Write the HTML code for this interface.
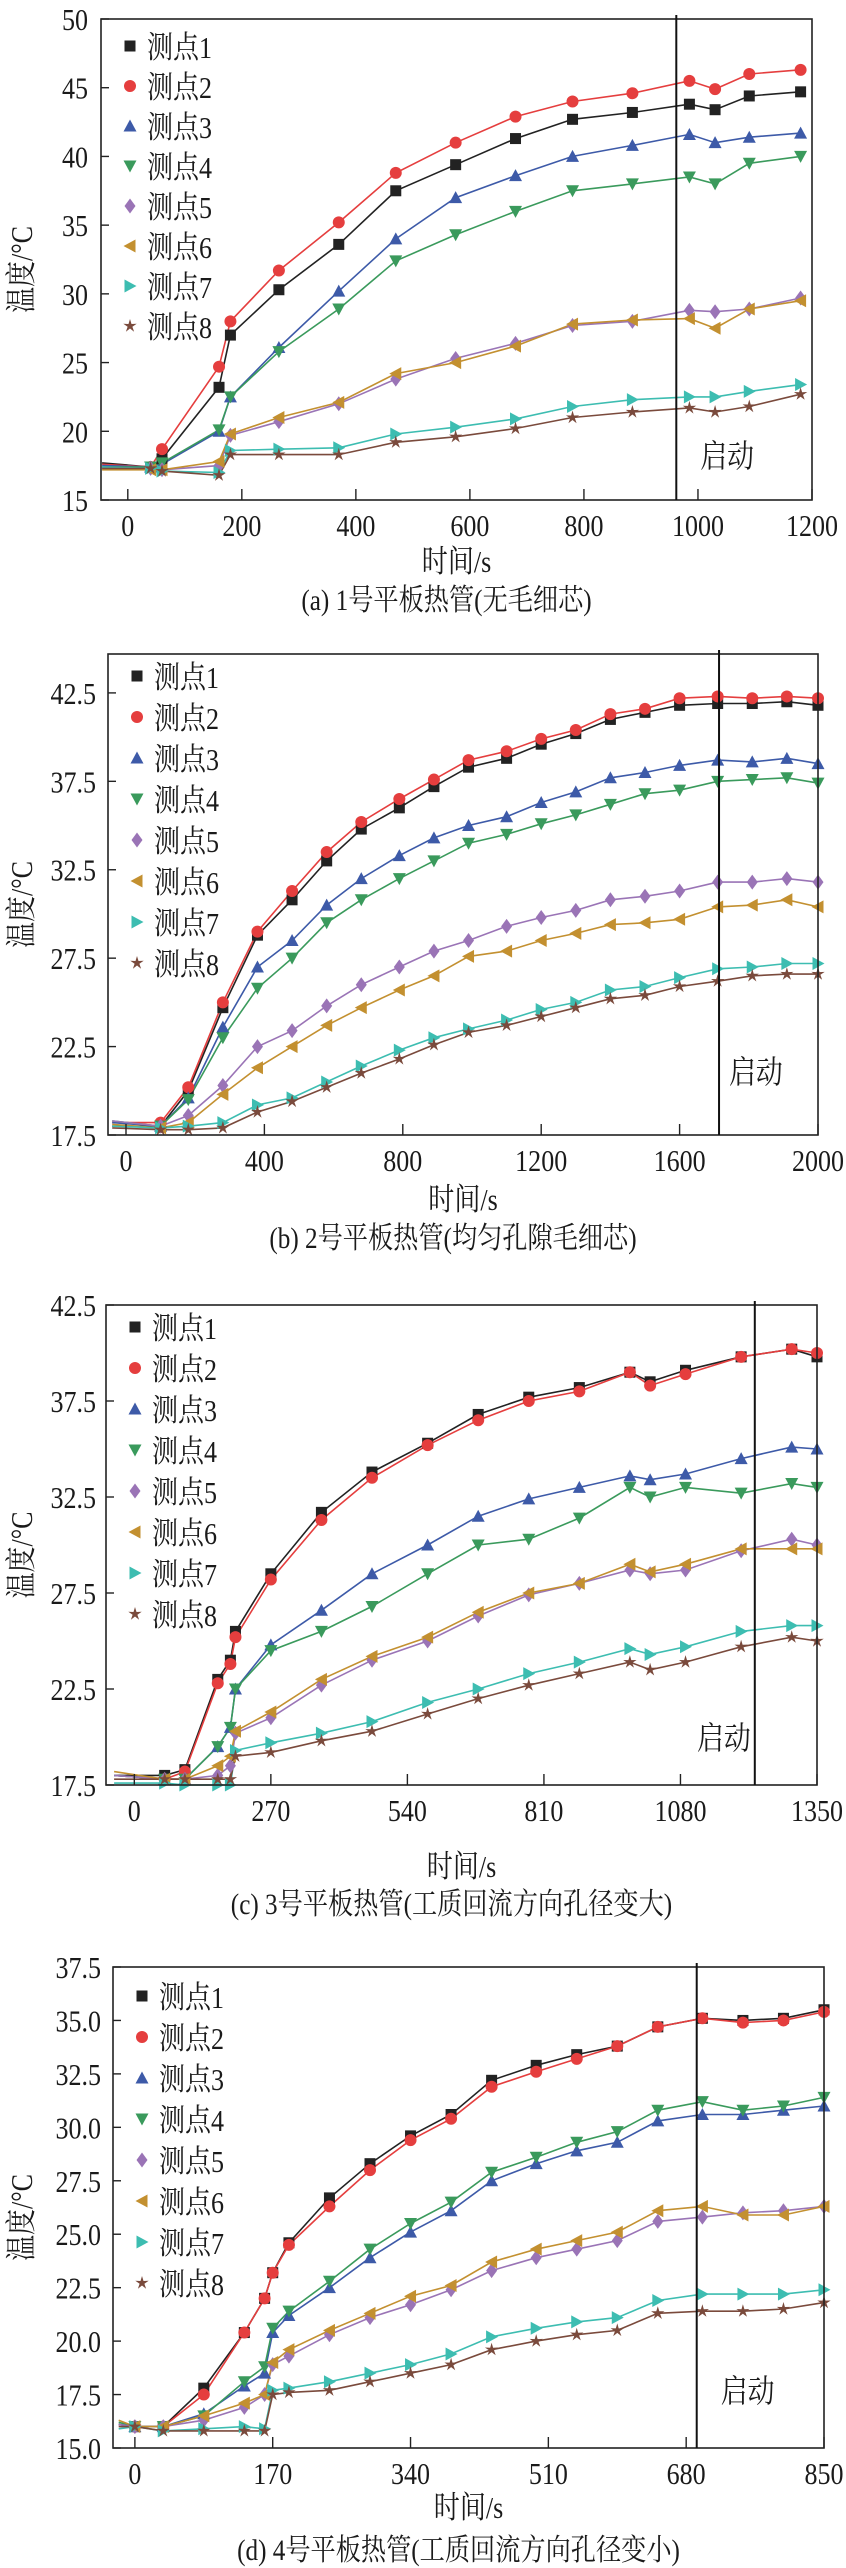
<!DOCTYPE html>
<html><head><meta charset="utf-8">
<style>
html,body{margin:0;padding:0;background:#fff;}
body{width:846px;height:2568px;position:relative;overflow:hidden;}
svg{position:absolute;left:0;top:0;}
text{font-family:"Liberation Serif","Noto Serif CJK SC",serif;fill:#1a1a1a;}
</style></head>
<body>
<svg id="svg" width="846" height="2568" viewBox="0 0 846 2568"></svg>
<script>
const seriesNames=["测点1","测点2","测点3","测点4","测点5","测点6","测点7","测点8"];
// Chart (a)
const timesA=[-45,40,60,160,180,265,370,470,575,680,780,885,985,1030,1090,1180];
const a1=[17.7,17.4,18.0,23.2,27,30.3,33.6,37.5,39.4,41.3,42.7,43.2,43.8,43.4,44.4,44.7];
const a2=[17.6,17.4,18.7,24.7,28,31.7,35.2,38.8,41.0,42.9,44.0,44.6,45.5,44.9,46.0,46.3];
const a3=[17.5,17.4,17.6,20.0,22.5,26.1,30.2,34.0,37.0,38.6,40.0,40.8,41.6,41.0,41.4,41.7];
const a4=[17.4,17.4,17.7,20.1,22.5,25.8,28.9,32.4,34.3,36.0,37.5,38.0,38.5,38.0,39.5,40.0];
const a5=[17.3,17.3,17.2,17.5,19.7,20.7,22.0,23.8,25.3,26.4,27.7,28.0,28.8,28.7,28.9,29.7];
const a6=[17.2,17.2,17.2,17.8,19.8,21.0,22.1,24.2,25.0,26.2,27.8,28.1,28.2,27.5,28.9,29.5];
const a7=[17.4,17.3,17.1,17.0,18.6,18.7,18.8,19.8,20.3,20.9,21.8,22.3,22.5,22.5,22.9,23.4];
const a8=[17.3,17.3,17.1,16.8,18.3,18.3,18.3,19.2,19.6,20.2,21.0,21.4,21.7,21.4,21.8,22.7];
const xTicksA=[0,200,400,600,800,1000,1200];
const yTicksA=["15","20","25","30","35","40","45","50"];
// Chart (b)
const timesB=[-40,100,180,280,380,480,580,680,790,890,990,1100,1200,1300,1400,1500,1600,1710,1810,1910,2000];
const b1=[18.0,18.0,20.0,24.7,28.8,30.8,33.0,34.8,36.0,37.2,38.3,38.8,39.6,40.2,41.0,41.4,41.8,41.9,41.9,42.0,41.8];
const b2=[18.2,18.2,20.2,25.0,29.0,31.3,33.5,35.2,36.5,37.6,38.7,39.2,39.9,40.4,41.3,41.6,42.2,42.3,42.2,42.3,42.2];
const b3=[18.2,18.0,19.6,23.6,27.0,28.5,30.5,32.0,33.3,34.3,35.0,35.5,36.3,36.9,37.7,38.0,38.4,38.7,38.6,38.8,38.5];
const b4=[18.3,18.0,19.5,23.0,25.8,27.5,29.5,30.8,32.0,33.0,34.0,34.5,35.1,35.6,36.2,36.8,37.0,37.5,37.6,37.7,37.4];
const b5=[18.3,18.0,18.6,20.3,22.5,23.4,24.8,26.0,27.0,27.9,28.5,29.3,29.8,30.2,30.8,31.0,31.3,31.8,31.8,32.0,31.8];
const b6=[18.1,17.9,18.2,19.8,21.3,22.5,23.7,24.7,25.7,26.5,27.6,27.9,28.5,28.9,29.4,29.5,29.7,30.4,30.5,30.8,30.4];
const b7=[18.0,17.9,18.0,18.2,19.2,19.6,20.5,21.4,22.3,23.0,23.5,24.0,24.6,25.0,25.7,25.9,26.4,26.9,27.0,27.2,27.2];
const b8=[17.9,17.8,17.8,17.9,18.8,19.4,20.2,21.0,21.8,22.6,23.3,23.7,24.2,24.7,25.2,25.4,25.9,26.2,26.5,26.6,26.6];
const xTicksB=[0,400,800,1200,1600,2000];
const yTicksB=["17.5","22.5","27.5","32.5","37.5","42.5"];
// Chart (c)
const timesC=[-40,60,100,165,190,200,270,370,470,580,680,780,880,980,1020,1090,1200,1300,1350];
const c1=[18.0,18.0,18.3,23.0,24.0,25.5,28.5,31.7,33.8,35.3,36.8,37.7,38.2,39.0,38.5,39.1,39.8,40.2,39.8];
const c2=[18.0,17.8,18.2,22.8,23.8,25.2,28.2,31.3,33.5,35.2,36.5,37.5,38.0,39.0,38.3,38.9,39.8,40.2,40.0];
const c3=[18.0,17.8,17.8,19.5,20.5,22.5,24.8,26.6,28.5,30.0,31.5,32.4,33.0,33.6,33.4,33.7,34.5,35.1,35.0];
const c4=[18.0,17.8,17.8,19.5,20.5,22.5,24.5,25.5,26.8,28.5,30.0,30.3,31.4,33.0,32.5,33.0,32.7,33.2,33.0];
const c5=[18.0,17.8,17.8,18.0,18.5,20.2,21.0,22.7,24.0,25.0,26.3,27.4,28.0,28.7,28.5,28.7,29.7,30.3,30.0];
const c6=[18.2,17.8,17.8,18.5,19.0,20.3,21.3,23.0,24.2,25.2,26.5,27.5,28.0,29.0,28.6,29.0,29.8,29.8,29.8];
const c7=[17.6,17.6,17.5,17.5,17.5,19.3,19.7,20.2,20.8,21.8,22.5,23.3,23.9,24.6,24.3,24.7,25.5,25.8,25.8];
const c8=[17.8,17.8,17.8,17.8,17.8,19.0,19.2,19.8,20.3,21.2,22.0,22.7,23.3,23.9,23.5,23.9,24.7,25.2,25.0];
const xTicksC=[0,270,540,810,1080,1350];
const yTicksC=["17.5","22.5","27.5","32.5","37.5","42.5"];
// Chart (d)
const timesD=[-20,0,35,85,135,160,170,190,240,290,340,390,440,495,545,595,645,700,750,800,850];
const d1=[16.1,16.0,16.0,17.8,20.4,22,23.2,24.6,26.7,28.3,29.6,30.6,32.2,32.9,33.4,33.8,34.7,35.1,35.0,35.1,35.5];
const d2=[16.1,16.0,16.0,17.5,20.4,22,23.2,24.5,26.3,28.0,29.4,30.4,31.9,32.6,33.2,33.8,34.7,35.1,34.9,35.0,35.4];
const d3=[16.1,16.0,16.0,16.6,17.9,18.5,20.4,21.2,22.5,23.9,25.1,26.1,27.5,28.3,28.9,29.3,30.3,30.6,30.6,30.8,31.0];
const d4=[16.2,16.0,16.0,16.5,18.1,18.8,20.6,21.4,22.8,24.3,25.5,26.5,27.9,28.6,29.3,29.8,30.8,31.2,30.8,31.0,31.4];
const d5=[16.1,16.0,16.0,16.3,16.9,17.5,18.9,19.3,20.3,21.1,21.7,22.4,23.3,23.9,24.3,24.7,25.6,25.8,26.0,26.1,26.3];
const d6=[16.3,16.0,16.0,16.5,17.1,17.5,19.0,19.6,20.5,21.3,22.1,22.6,23.7,24.3,24.7,25.1,26.1,26.3,25.9,25.9,26.3];
const d7=[15.9,16.0,15.8,15.9,16.0,15.9,17.7,17.8,18.1,18.5,18.9,19.4,20.2,20.6,20.9,21.1,21.9,22.2,22.2,22.2,22.4];
const d8=[16.0,16.0,15.8,15.8,15.8,15.8,17.5,17.6,17.7,18.1,18.5,18.9,19.6,20.0,20.3,20.5,21.3,21.4,21.4,21.5,21.8];
const xTicksD=[0,170,340,510,680,850];
const yTicksD=["15.0","17.5","20.0","22.5","25.0","27.5","30.0","32.5","35.0","37.5"];

const colors=["#222222","#e53e3e","#3d5aa8","#3a9a5c","#9a74b6","#c39030","#3dbdb1","#7a4a3c"];
const NS="http://www.w3.org/2000/svg";
const svg=document.getElementById('svg');
function el(tag,attrs,parent){const e=document.createElementNS(NS,tag);for(const k in attrs)e.setAttribute(k,attrs[k]);(parent||svg).appendChild(e);return e;}
// condensed tall text like the reference
function txt(g,x,y,size,anchor,str,extra){
  const t=el('text',{x:0,y:0,'font-size':size,'text-anchor':anchor||'start',transform:`translate(${x},${y}) ${extra||''} scale(0.84,1)`},g);
  t.textContent=str;
  return t;
}

function marker(g,shape,x,y,c){
  const s=5.5;let e;
  if(shape===0)e=el('rect',{x:x-s,y:y-s,width:2*s,height:2*s,fill:c},g);
  else if(shape===1)e=el('circle',{cx:x,cy:y,r:s+0.5,fill:c},g);
  else if(shape===2)e=el('polygon',{points:`${x},${y-s-1} ${x+s+1},${y+s} ${x-s-1},${y+s}`,fill:c},g);
  else if(shape===3)e=el('polygon',{points:`${x},${y+s+1} ${x+s+1},${y-s} ${x-s-1},${y-s}`,fill:c},g);
  else if(shape===4)e=el('polygon',{points:`${x},${y-s-2} ${x+s},${y} ${x},${y+s+2} ${x-s},${y}`,fill:c},g);
  else if(shape===5)e=el('polygon',{points:`${x-s-1},${y} ${x+s},${y-s-1} ${x+s},${y+s+1}`,fill:c},g);
  else if(shape===6)e=el('polygon',{points:`${x+s+1},${y} ${x-s},${y-s-1} ${x-s},${y+s+1}`,fill:c},g);
  else{let p=[];for(let i=0;i<10;i++){const r=i%2?s*0.45:s+1.5;const a=-Math.PI/2+i*Math.PI/5;p.push((x+r*Math.cos(a)).toFixed(1)+','+(y+r*Math.sin(a)).toFixed(1));}e=el('polygon',{points:p.join(' '),fill:c},g);}
  
  
}

function drawChart(cfg){
  const g=el('g',{});
  
  
  const L=cfg.left,R=cfg.right,T=cfg.top,B=cfg.bottom;
  const ymin=parseFloat(cfg.yTicks[0]);
  const xs=v=>L+(v-cfg.xmin)/(cfg.xmax-cfg.xmin)*(R-L);
  const ys=v=>B-(v-ymin)/(cfg.ymax-ymin)*(B-T);
  cfg.series.forEach((vals,si)=>{
    const pts=cfg.times.map((t,i)=>xs(t).toFixed(1)+','+ys(vals[i]).toFixed(1)).join(' ');
    const pl=el('polyline',{points:pts,fill:'none',stroke:colors[si],'stroke-width':1.6},g);
    
    
  });
  cfg.series.forEach((vals,si)=>{
    cfg.times.forEach((t,i)=>{ if(i>0) marker(g,si,xs(t),ys(vals[i]),colors[si]); });
  });
  const fr=el('rect',{x:L,y:T,width:R-L,height:B-T,fill:'none',stroke:'#222','stroke-width':1.6},g);
  
  
  cfg.xTicks.forEach(v=>{
    const x=xs(v);
    el('line',{x1:x,y1:B,x2:x,y2:B-11,stroke:'#222','stroke-width':1.4},g);
    const t=txt(g,x,B+36,31,'middle',String(v));
    
    
  });
  cfg.yTicks.forEach(s=>{
    const y=ys(parseFloat(s));
    el('line',{x1:L,y1:y,x2:L+8,y2:y,stroke:'#222','stroke-width':1.4},g);
    const t=txt(g,cfg.ylabX,y+11,31,'end',s);
    
    
  });
  const vx=xs(cfg.startT);
  const vl=el('line',{x1:vx,y1:T-4,x2:vx,y2:B,stroke:'#111','stroke-width':2},g);
  
  
  const st=txt(g,vx+cfg.startDx,B-cfg.startDy,32,cfg.startAnchor,'启动');
  
  
  seriesNames.forEach((n,i)=>{
    const y=T+cfg.legTop+i*cfg.legGap;
    marker(g,i,L+29,y,colors[i]);
    const t=txt(g,L+46,y+12,31,'start',n);
    
    
  });
  const yt=txt(g,cfg.ytitleX,(T+B)/2+10,31,'middle','温度/°C','rotate(-90)');
  
  
  const xt=txt(g,(L+R)/2,cfg.xtitleY,31,'middle','时间/s');
  
  
  const cp=txt(g,(L+R)/2-10,cfg.captionY,30,'middle',cfg.caption);
  
  
}

drawChart({id:'chart-a',left:101,right:812,top:19,bottom:500,xmin:-47,xmax:1200,ymax:50,
  times:timesA,series:[a1,a2,a3,a4,a5,a6,a7,a8],xTicks:xTicksA,yTicks:yTicksA,ylabX:88,
  startT:962,startDx:24,startDy:33,startAnchor:'start',legTop:27,legGap:40,ytitleX:32,xtitleY:572,
  caption:'(a) 1号平板热管(无毛细芯)',captionY:610});
drawChart({id:'chart-b',left:108,right:818,top:654,bottom:1135,xmin:-52,xmax:2000,ymax:44.7,
  times:timesB,series:[b1,b2,b3,b4,b5,b6,b7,b8],xTicks:xTicksB,yTicks:yTicksB,ylabX:96,
  startT:1714,startDx:10,startDy:52,startAnchor:'start',legTop:22,legGap:41,ytitleX:32,xtitleY:1210,
  caption:'(b) 2号平板热管(均匀孔隙毛细芯)',captionY:1248});
drawChart({id:'chart-c',left:106,right:817,top:1305,bottom:1785,xmin:-56,xmax:1350,ymax:42.5,
  times:timesC,series:[c1,c2,c3,c4,c5,c6,c7,c8],xTicks:xTicksC,yTicks:yTicksC,ylabX:96,
  startT:1227,startDx:-4,startDy:36,startAnchor:'end',legTop:22,legGap:41,ytitleX:32,xtitleY:1877,
  caption:'(c) 3号平板热管(工质回流方向孔径变大)',captionY:1914});
drawChart({id:'chart-d',left:113,right:824,top:1967,bottom:2448,xmin:-27,xmax:850,ymax:37.5,
  times:timesD,series:[d1,d2,d3,d4,d5,d6,d7,d8],xTicks:xTicksD,yTicks:yTicksD,ylabX:101,
  startT:693,startDx:24,startDy:46,startAnchor:'start',legTop:29,legGap:41,ytitleX:32,xtitleY:2518,
  caption:'(d) 4号平板热管(工质回流方向孔径变小)',captionY:2560});
</script>
</body></html>
